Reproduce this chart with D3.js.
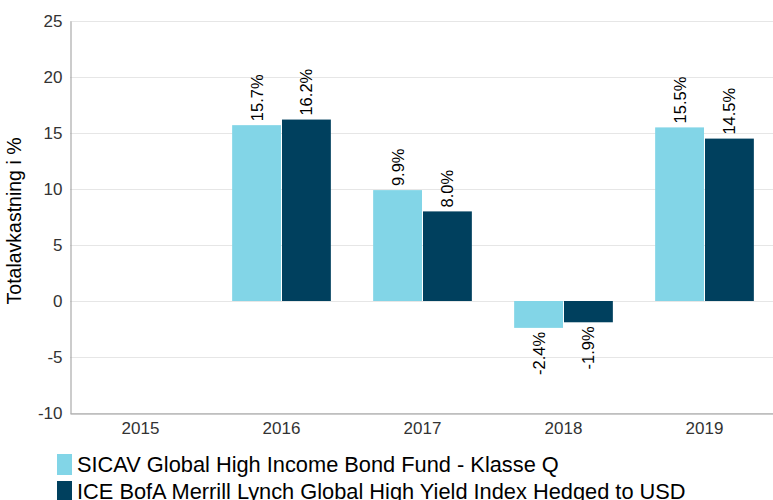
<!DOCTYPE html>
<html>
<head>
<meta charset="utf-8">
<script src="https://cdn.jsdelivr.net/npm/d3@7"></script>
<style>
  body { margin: 0; background: #fff; }
  svg { font-family: "Liberation Sans", Arial, sans-serif; }
</style>
</head>
<body>
<div id="chart"></div>
<script>
const years = ["2015", "2016", "2017", "2018", "2019"];
const seriesNames = [
  "SICAV Global High Income Bond Fund - Klasse Q",
  "ICE BofA Merrill Lynch Global High Yield Index Hedged to USD"
];
const fundValues = [null, 15.7, 9.9, -2.4, 15.5];
const indexValues = [null, 16.2, 8.0, -1.9, 14.5];
const yTicks = [-10, -5, 0, 5, 10, 15, 20, 25];
const colors = ["#82d5e7", "#00405e"];

const width = 773, height = 500;
const margin = { top: 21, right: 0, bottom: 87, left: 70 };

const svg = d3.select("#chart").append("svg")
  .attr("width", width)
  .attr("height", height);

const x = d3.scaleBand()
  .domain(years)
  .range([margin.left, width + 2])
  .paddingInner(0.3)
  .paddingOuter(0.15);

const x1 = d3.scaleBand()
  .domain([0, 1])
  .range([0, x.bandwidth()])
  .paddingInner(0.02);

const y = d3.scaleLinear()
  .domain([-10, 25])
  .range([height - margin.bottom, margin.top]);

// gridlines
svg.append("g")
  .selectAll("line")
  .data(yTicks)
  .join("line")
  .attr("x1", margin.left)
  .attr("x2", width)
  .attr("y1", d => y(d) + 0.5)
  .attr("y2", d => y(d) + 0.5)
  .attr("stroke", "#e6e6e6");

// y axis (hyphen minus like the original)
const yAxis = svg.append("g")
  .attr("transform", `translate(${margin.left + 0.5},0)`)
  .call(d3.axisLeft(y).tickValues(yTicks).tickSize(0).tickPadding(8)
    .tickFormat(d => String(d)));
yAxis.select(".domain").attr("stroke", "#999");
yAxis.selectAll("text").attr("fill", "#333").style("font-size", "17px");

// x axis
const xAxis = svg.append("g")
  .attr("transform", `translate(0,${y(-10) + 0.5})`)
  .call(d3.axisBottom(x).tickSize(0).tickPadding(8));
xAxis.select(".domain").attr("stroke", "#999");
xAxis.selectAll("text").attr("fill", "#333").style("font-size", "17px");

// y title
svg.append("text")
  .attr("transform", `translate(21,${(y(25) + y(-10)) / 2 + 4}) rotate(-90)`)
  .attr("text-anchor", "middle")
  .attr("fill", "#000")
  .style("font-size", "19.5px")
  .text("Totalavkastning i %");

const rows = [];
years.forEach((yr, i) => {
  [fundValues[i], indexValues[i]].forEach((v, s) => {
    if (v !== null) rows.push({ year: yr, s: s, v: v });
  });
});

const groups = svg.append("g");

groups.selectAll("rect")
  .data(rows)
  .join("rect")
  .attr("x", d => x(d.year) + x1(d.s))
  .attr("width", x1.bandwidth())
  .attr("y", d => y(Math.max(0, d.v)))
  .attr("height", d => Math.abs(y(d.v) - y(0)))
  .attr("fill", d => colors[d.s]);

groups.selectAll("text")
  .data(rows)
  .join("text")
  .attr("transform", d => {
    const cx = x(d.year) + x1(d.s) + x1.bandwidth() / 2;
    const cy = d.v >= 0 ? y(d.v) - 4 : y(d.v) + 4;
    return `translate(${cx + 6},${cy}) rotate(-90)`;
  })
  .attr("text-anchor", d => d.v >= 0 ? "start" : "end")
  .attr("fill", "#000")
  .style("font-size", "16.5px")
  .text(d => d.v.toFixed(1) + "%");

// legend
const legend = svg.append("g")
  .selectAll("g")
  .data(seriesNames)
  .join("g")
  .attr("transform", (d, i) => `translate(57,${454 + i * 27})`);

legend.append("rect")
  .attr("width", 15)
  .attr("height", 21)
  .attr("fill", (d, i) => colors[i]);

legend.append("text")
  .attr("x", 20)
  .attr("y", 18)
  .attr("fill", "#000")
  .style("font-size", "21.8px")
  .text(d => d);
</script>
</body>
</html>
